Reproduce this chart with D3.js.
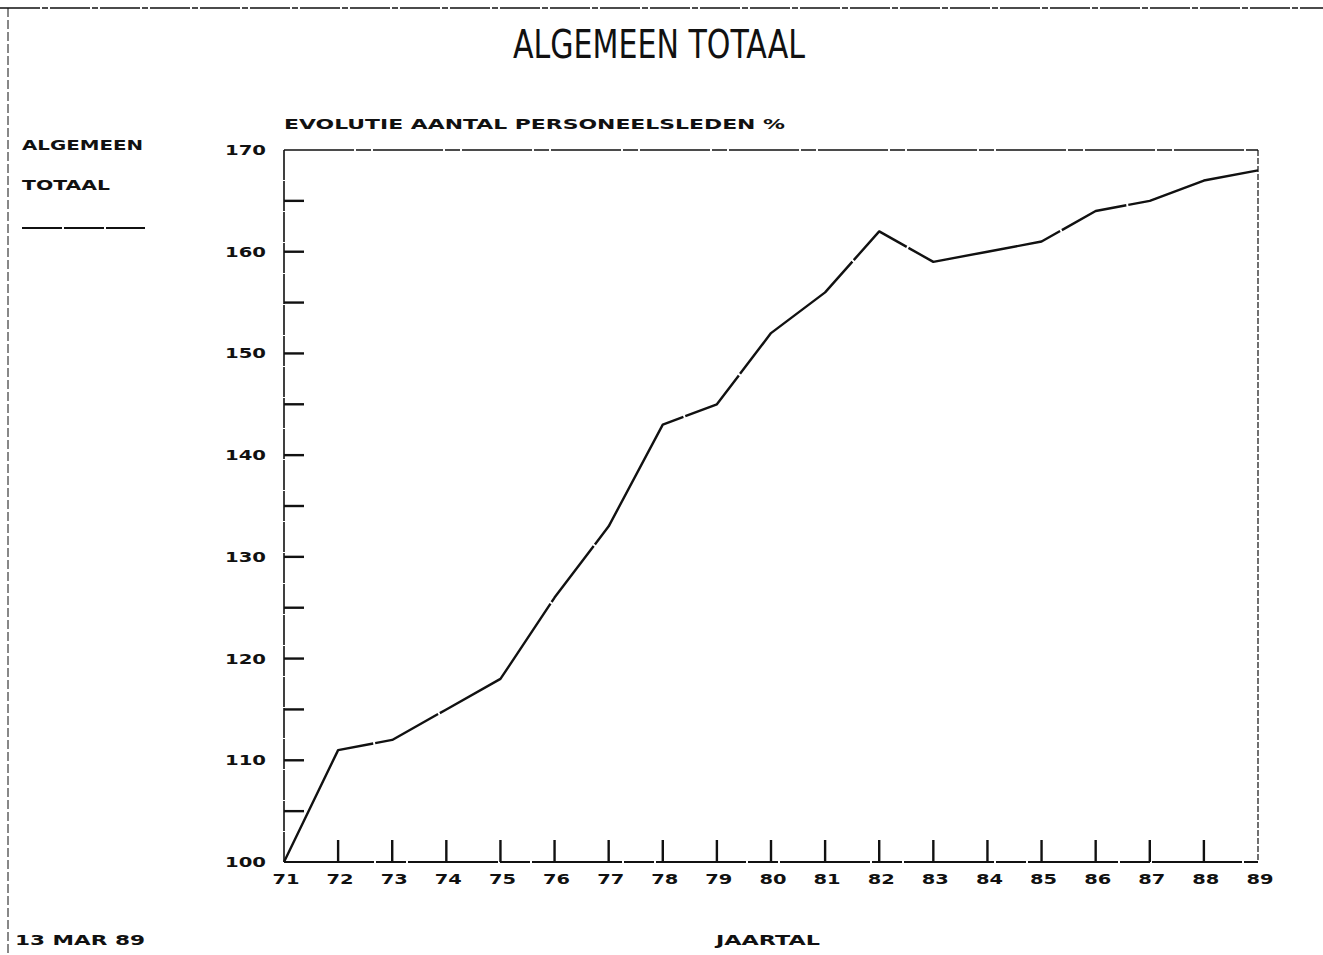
<!DOCTYPE html>
<html>
<head>
<meta charset="utf-8">
<script src="https://cdn.jsdelivr.net/npm/d3@7"></script>
<style>
  html, body { margin: 0; padding: 0; background: #fff; }
  svg { display: block; }
</style>
</head>
<body>
<svg id="chart" width="1323" height="955"></svg>
<script>
// Data (index, 1971 = 100)
const years = [71, 72, 73, 74, 75, 76, 77, 78, 79, 80, 81, 82, 83, 84, 85, 86, 87, 88, 89];
const values = [100, 111, 112, 115, 118, 126, 133, 143, 145, 152, 156, 162, 159, 160, 161, 164, 165, 167, 168];
const yTickLabels = [100, 110, 120, 130, 140, 150, 160, 170];
const yMinorTicks = [105, 115, 125, 135, 145, 155, 165];

const title = 'ALGEMEEN TOTAAL';
const subtitle = 'EVOLUTIE AANTAL PERSONEELSLEDEN %';
const legendLines = ['ALGEMEEN', 'TOTAAL'];
const xTitle = 'JAARTAL';
const dateStamp = '13 MAR 89';

const W = 1323, H = 955;
const plot = { left: 284, right: 1258, top: 150, bottom: 862 };
const ink = '#111';
const plotterFont = '"DejaVu Sans", sans-serif';

const svg = d3.select('#chart');

const x = d3.scaleLinear().domain([71, 89]).range([plot.left, plot.right]);
const y = d3.scaleLinear().domain([100, 170]).range([plot.bottom, plot.top]);

// stretched bold text, like the plotter lettering
function label(px, py, txt, len, anchor) {
    const t = svg.append('text')
        .attr('x', px).attr('y', py)
        .attr('font-family', plotterFont).attr('font-weight', 700)
        .attr('font-size', 14).attr('fill', ink)
        .attr('text-anchor', anchor || 'start')
        .text(txt);
    if (len) t.attr('textLength', len).attr('lengthAdjust', 'spacingAndGlyphs');
    return t;
}

// Outer page frame (dashed, scanned look)
svg.append('line').attr('x1', 0).attr('x2', W).attr('y1', 8).attr('y2', 8)
    .attr('stroke', ink).attr('stroke-width', 1.4).attr('stroke-dasharray', '40,2,6,2');
svg.append('line').attr('x1', 8).attr('x2', 8).attr('y1', 8).attr('y2', H)
    .attr('stroke', ink).attr('stroke-width', 1).attr('stroke-dasharray', '9,3');

// Title
svg.append('text')
    .attr('x', 659).attr('y', 58)
    .attr('text-anchor', 'middle')
    .attr('font-family', '"DejaVu Sans Condensed", "DejaVu Sans", sans-serif')
    .attr('font-weight', 200)
    .attr('font-size', 39).attr('fill', ink)
    .attr('textLength', 292).attr('lengthAdjust', 'spacingAndGlyphs')
    .text(title);

label(plot.left, 129, subtitle, 501);

// Legend
label(22, 150, legendLines[0], 121);
label(22, 190, legendLines[1], 88);
svg.append('line').attr('x1', 22).attr('x2', 145).attr('y1', 228).attr('y2', 228)
    .attr('stroke', ink).attr('stroke-width', 1.8).attr('stroke-dasharray', '40,2');

// Plot box
const g = svg.append('g');
g.append('line').attr('x1', plot.left).attr('x2', plot.right)
    .attr('y1', plot.top).attr('y2', plot.top)
    .attr('stroke', ink).attr('stroke-width', 1.6).attr('stroke-dasharray', '70,2,15,2');
g.append('line').attr('x1', plot.right).attr('x2', plot.right)
    .attr('y1', plot.top).attr('y2', plot.bottom)
    .attr('stroke', ink).attr('stroke-width', 1.2).attr('stroke-dasharray', '6,2');
g.append('line').attr('x1', plot.left).attr('x2', plot.left)
    .attr('y1', plot.top).attr('y2', plot.bottom)
    .attr('stroke', ink).attr('stroke-width', 1.6).attr('stroke-dasharray', '30,1');
g.append('line').attr('x1', plot.left).attr('x2', plot.right)
    .attr('y1', plot.bottom).attr('y2', plot.bottom)
    .attr('stroke', ink).attr('stroke-width', 2.2).attr('stroke-dasharray', '90,2,30,2');

// Y ticks (inward) and labels
for (const v of yTickLabels.concat(yMinorTicks)) {
    if (v === 100 || v === 170) continue;
    g.append('line')
        .attr('x1', plot.left).attr('x2', plot.left + 20)
        .attr('y1', y(v)).attr('y2', y(v))
        .attr('stroke', ink).attr('stroke-width', 2.4);
}
for (const v of yTickLabels) {
    label(266, y(v) + 5, String(v), 41, 'end');
}

// X ticks (upward) and labels
for (const yr of years) {
    if (yr !== 71 && yr !== 89) {
        g.append('line')
            .attr('x1', x(yr)).attr('x2', x(yr))
            .attr('y1', plot.bottom).attr('y2', plot.bottom - 22)
            .attr('stroke', ink).attr('stroke-width', 2.4);
    }
    label(x(yr) + 2, 884, String(yr), 27, 'middle');
}

// Series line
const line = d3.line()
    .x((d, i) => x(years[i]))
    .y(d => y(d));
g.append('path').datum(values)
    .attr('d', line)
    .attr('fill', 'none').attr('stroke', ink)
    .attr('stroke-width', 2.4).attr('stroke-linejoin', 'round')
    .attr('stroke-dasharray', '160,2,70,2');

// Footer
label(15, 945, dateStamp, 130);
label(716, 945, xTitle, 104);
</script>
</body>
</html>
